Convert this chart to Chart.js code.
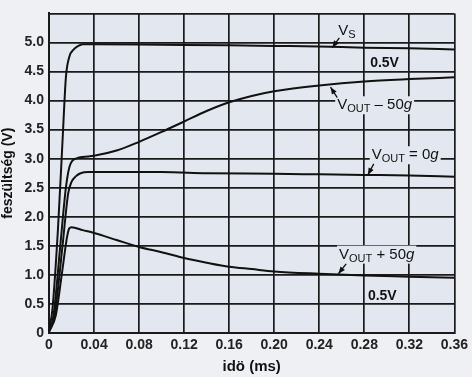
<!DOCTYPE html>
<html><head><meta charset="utf-8">
<script src="https://cdn.jsdelivr.net/npm/chart.js@4/dist/chart.umd.min.js"></script>
<style>
html,body{margin:0;padding:0;background:#eef0f3;}
#wrap{width:472px;height:377px;}
</style></head>
<body><div id="wrap"><canvas id="c" width="472" height="377"></canvas></div>
<script>
// time axis (ms) and voltage values (V)
const tVs   = [0,0.003,0.008,0.012,0.015,0.018,0.022,0.026,0.03,0.04,0.1,0.16,0.2,0.24,0.28,0.32,0.36];
const vVs   = [0.05,0.4,1.8,3.3,4.4,4.75,4.88,4.94,4.97,4.97,4.96,4.95,4.94,4.93,4.91,4.9,4.88];

const tMinus = [0,0.004,0.01,0.015,0.018,0.021,0.025,0.03,0.04,0.06,0.08,0.1,0.12,0.14,0.16,0.18,0.2,0.24,0.28,0.32,0.36];
const vMinus = [0.03,0.3,1.5,2.5,2.85,2.97,3.01,3.03,3.05,3.14,3.29,3.46,3.64,3.82,3.97,4.08,4.16,4.26,4.33,4.37,4.4];

const tZero = [0,0.005,0.012,0.017,0.02,0.024,0.028,0.035,0.04,0.1,0.14,0.2,0.24,0.28,0.32,0.36];
const vZero = [0.02,0.3,1.5,2.4,2.6,2.7,2.75,2.77,2.77,2.77,2.75,2.74,2.73,2.72,2.71,2.69];

const tPlus = [0,0.006,0.012,0.016,0.018,0.02,0.03,0.04,0.06,0.08,0.1,0.12,0.14,0.16,0.18,0.2,0.24,0.28,0.32,0.36];
const vPlus = [0.02,0.3,1.1,1.65,1.8,1.82,1.77,1.72,1.6,1.48,1.39,1.29,1.21,1.14,1.1,1.06,1.02,0.99,0.97,0.95];

const xTicks = [0,0.04,0.08,0.12,0.16,0.2,0.24,0.28,0.32,0.36];
const yTicks = [0,0.5,1.0,1.5,2.0,2.5,3.0,3.5,4.0,4.5,5.0];

// text labels in data units: label position, arrow start (sx,sy) and arrow tip (ax,ay)
const labels = [
  {kind:'VS',   x:0.2569, y:5.13, sx:0.2578, sy:5.08, ax:0.2516, ay:4.91},
  {kind:'half', x:0.298,  y:4.64},
  {kind:'minus',x:0.2892, y:3.85, sx:0.256,  sy:4.05, ax:0.2500, ay:4.23},
  {kind:'zero', x:0.3163, y:2.99, sx:0.2884, sy:2.91, ax:0.2831, ay:2.72},
  {kind:'plus', x:0.291,  y:1.28, sx:0.2639, sy:1.19, ax:0.2570, ay:1.02},
  {kind:'half', x:0.296,  y:0.64}
];

const pts = (t,v)=>t.map((x,i)=>({x:x,y:v[i]}));
const lineDs = (t,v)=>({data:pts(t,v),borderColor:'#111',borderWidth:2,pointRadius:0,cubicInterpolationMode:'monotone',fill:false});
const PLOTBG='#e3e8f0';
const FAM='"Liberation Sans", Arial, sans-serif';

const bgPlugin = {
  id:'bg',
  beforeDraw(chart){
    const {ctx,chartArea:a}=chart;
    ctx.save();ctx.fillStyle=PLOTBG;ctx.fillRect(a.left,a.top,a.right-a.left,a.bottom-a.top);ctx.restore();
  }
};

function drawV(ctx,x,y,sub,parts){
  ctx.font='15px '+FAM;
  const wV=ctx.measureText('V').width;
  ctx.font='11px '+FAM;
  const wS=ctx.measureText(sub).width;
  let wR=0;
  parts.forEach(p=>{ctx.font=p.f;wR+=ctx.measureText(p.s).width;});
  const total=wV+wS+wR;
  let cx=x-total/2;
  ctx.fillStyle=PLOTBG;
  ctx.fillRect(cx-2,y-13,total+4,18);
  ctx.fillStyle='#111';
  ctx.textBaseline='alphabetic';ctx.textAlign='left';
  ctx.font='15px '+FAM;
  ctx.fillText('V',cx,y);cx+=wV;
  ctx.font='11px '+FAM;
  ctx.fillText(sub,cx,y+3);cx+=wS;
  parts.forEach(p=>{ctx.font=p.f;ctx.fillText(p.s,cx,y);cx+=ctx.measureText(p.s).width;});
}

const labelPlugin = {
  id:'labels',
  afterDatasetsDraw(chart){
    const {ctx,scales:{x,y}}=chart;
    ctx.save();
    labels.forEach(l=>{
      const px=x.getPixelForValue(l.x), py=y.getPixelForValue(l.y);
      const reg='15px '+FAM;
      const it='italic 15px '+FAM;
      if(l.kind==='VS'){
        ctx.font='15px '+FAM;
        ctx.fillStyle='#111';ctx.textAlign='left';ctx.textBaseline='alphabetic';
        ctx.fillText('V',px,py);
        ctx.font='11px '+FAM;
        ctx.fillText('S',px+10,py+3);
      } else if(l.kind==='half'){
        ctx.font='bold 14px '+FAM;
        ctx.fillStyle='#111';ctx.textAlign='center';ctx.textBaseline='middle';
        ctx.fillText('0.5V',px,py);
        ctx.textBaseline='alphabetic';
      } else if(l.kind==='minus'){
        drawV(ctx,px,py,'OUT',[{s:' – 50',f:reg},{s:'g',f:it}]);
      } else if(l.kind==='zero'){
        drawV(ctx,px,py,'OUT',[{s:' = 0',f:reg},{s:'g',f:it}]);
      } else if(l.kind==='plus'){
        drawV(ctx,px,py,'OUT',[{s:' + 50',f:reg},{s:'g',f:it}]);
      }
      if(l.ax!==undefined){
        const tx=x.getPixelForValue(l.ax), ty=y.getPixelForValue(l.ay);
        const sx=x.getPixelForValue(l.sx), sy=y.getPixelForValue(l.sy);
        ctx.strokeStyle='#111';ctx.lineWidth=1.3;
        ctx.beginPath();ctx.moveTo(sx,sy);ctx.lineTo(tx,ty);ctx.stroke();
        const ang=Math.atan2(ty-sy,tx-sx);
        ctx.fillStyle='#111';ctx.beginPath();
        ctx.moveTo(tx,ty);
        ctx.lineTo(tx-7*Math.cos(ang)+2.8*Math.sin(ang),ty-7*Math.sin(ang)-2.8*Math.cos(ang));
        ctx.lineTo(tx-7*Math.cos(ang)-2.8*Math.sin(ang),ty-7*Math.sin(ang)+2.8*Math.cos(ang));
        ctx.closePath();ctx.fill();
      }
    });
    ctx.restore();
  }
};

const tickFont={family:FAM,size:14,weight:'bold'};
new Chart(document.getElementById('c'),{
  type:'line',
  data:{datasets:[lineDs(tVs,vVs),lineDs(tMinus,vMinus),lineDs(tZero,vZero),lineDs(tPlus,vPlus)]},
  options:{
    responsive:false,animation:false,
    layout:{padding:{top:6,right:11,left:0,bottom:0}},
    plugins:{legend:{display:false},tooltip:{enabled:false}},
    scales:{
      x:{type:'linear',min:0,max:0.36,
        afterBuildTicks(s){s.ticks=xTicks.map(v=>({value:v}));},
        afterFit(s){s.height=44;},
        ticks:{color:'#222',font:tickFont,padding:4,callback:v=>v===0?'0':v.toFixed(2)},
        grid:{color:'#1a1a1a',lineWidth:1.7,drawTicks:false},
        border:{color:'#1a1a1a',width:2},
        title:{display:true,text:'idö (ms)',color:'#111',font:{family:FAM,size:15,weight:'bold'},padding:{top:0,bottom:1}}
      },
      y:{type:'linear',min:0,max:5.5,
        afterBuildTicks(s){s.ticks=yTicks.concat([5.5]).map(v=>({value:v}));},
        afterFit(s){s.width=49;},
        ticks:{color:'#222',font:tickFont,padding:5,callback:v=>v===0?'0':(v>5.2?'':v.toFixed(1))},
        grid:{color:'#1a1a1a',lineWidth:1.7,drawTicks:false},
        border:{color:'#1a1a1a',width:2},
        title:{display:true,text:'feszültség (V)',color:'#111',font:{family:FAM,size:14,weight:'bold'},padding:{top:0,bottom:0}}
      }
    }
  },
  plugins:[bgPlugin,labelPlugin]
});
</script></body></html>
